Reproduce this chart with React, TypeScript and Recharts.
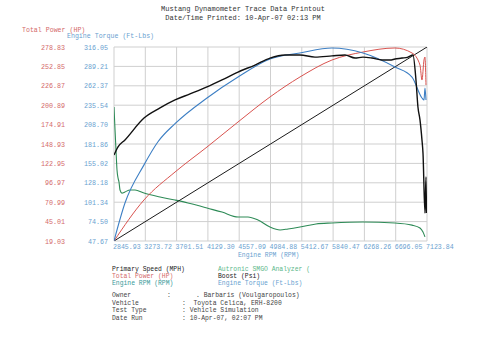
import { LineChart, Line, XAxis, YAxis, CartesianGrid } from "recharts";

const RPM_TICKS = [2845.93, 3273.72, 3701.51, 4129.3, 4557.09, 4984.88, 5412.67, 5840.47, 6268.26, 6696.05, 7123.84];
const TORQUE_TICKS = [47.67, 74.5, 101.34, 128.18, 155.02, 181.86, 208.7, 235.54, 262.37, 289.21, 316.05];
const POWER_TICKS = [19.03, 45.01, 70.99, 96.97, 122.95, 148.93, 174.91, 200.89, 226.87, 252.85, 278.83];

// engine torque (ft-lbs)
const torqueRpm = [2846, 2996, 3256, 3447, 3680, 4117, 4541, 4978, 5388, 5825, 6249, 6686, 6919, 7055, 7083, 7096, 7110];
const torqueVal = [47.7, 100.2, 153.0, 185.0, 210.0, 245.5, 274.5, 299.4, 307.8, 314.7, 307.8, 288.4, 274.5, 245.5, 242.7, 259.4, 242.7];

// total power (hp)
const powerRpm = [2846, 3256, 3680, 4117, 4541, 4978, 5388, 5825, 6249, 6686, 6919, 7028, 7055, 7083, 7096, 7110];
const powerVal = [19.0, 74.0, 111.4, 144.9, 178.4, 211.9, 238.7, 261.4, 272.1, 277.5, 270.8, 254.7, 234.6, 261.4, 265.4, 227.9];

// boost trace (scale 0-100)
const boostRpm = [2846, 2901, 2996, 3256, 3475, 3680, 3885, 4117, 4322, 4541, 4773, 4978, 5183, 5388, 5593, 5825, 6003, 6140, 6249, 6372, 6509, 6618, 6686, 6782, 6864, 6932, 6973, 7000, 7028, 7055, 7069, 7096, 7110, 7117];
const boostVal = [44.3, 48.5, 52.1, 63.4, 68.6, 72.7, 75.8, 79.4, 83.0, 87.1, 90.7, 94.3, 95.9, 95.9, 94.8, 95.4, 95.9, 94.3, 94.8, 94.3, 93.3, 93.3, 93.8, 94.3, 94.8, 95.9, 83.0, 69.1, 62.4, 52.1, 45.4, 14.4, 33.0, 14.4];

// primary speed (scale 0-100)
const speedRpm = [2846, 7124];
const speedVal = [0, 100];

// autronic analyzer (scale 0-100)
const afrRpm = [2846, 2860, 2873, 2887, 2901, 2914, 2928, 2955, 2996, 3065, 3133, 3256, 3475, 3680, 3857, 4021, 4117, 4322, 4541, 4677, 4814, 4978, 5115, 5224, 5388, 5607, 5825, 6249, 6686, 6919, 7028, 7069, 7096];
const afrVal = [69.1, 57.2, 46.9, 36.6, 32.5, 30.4, 26.3, 24.7, 25.3, 26.3, 26.3, 24.7, 22.7, 21.1, 19.6, 18.0, 17.0, 14.9, 12.4, 12.4, 10.8, 7.2, 5.7, 6.2, 7.2, 8.8, 9.3, 9.8, 9.3, 8.2, 6.7, 4.6, 2.1];

const torqueData = torqueRpm.map((rpm, i) => ({ rpm, v: torqueVal[i] }));
const powerData = powerRpm.map((rpm, i) => ({ rpm, v: powerVal[i] }));
const boostData = boostRpm.map((rpm, i) => ({ rpm, v: boostVal[i] }));
const speedData = speedRpm.map((rpm, i) => ({ rpm, v: speedVal[i] }));
const afrData = afrRpm.map((rpm, i) => ({ rpm, v: afrVal[i] }));

const MONO = "'Liberation Mono', 'DejaVu Sans Mono', monospace";
const RED = "#d9534f";
const BLUE = "#3d7fc4";
const GREEN = "#2e8b57";
const LABEL_RED = "#d46a6a";
const LABEL_BLUE = "#6a9fd0";
const GRID = "#cfcfcf";
const PLOT_LEFT = 114;

const YTick = (props: any) => {
  const { y, payload, index } = props;
  const x = Number.isFinite(props.x) ? props.x : PLOT_LEFT - 6;
  return (
    <g>
      <text x={x} y={y} dy={2.5} textAnchor="end" fontSize={6.7} fontFamily={MONO} fill={LABEL_BLUE}>
        {Number(payload.value).toFixed(2)}
      </text>
      <text x={x - 43} y={y} dy={2.5} textAnchor="end" fontSize={6.7} fontFamily={MONO} fill={LABEL_RED}>
        {POWER_TICKS[index]?.toFixed(2)}
      </text>
    </g>
  );
};

const XTick = (props: any) => {
  const { x, y, payload } = props;
  return (
    <text x={x - 1} y={y} dy={4} textAnchor="start" fontSize={6.6} fontFamily={MONO} fill={LABEL_BLUE}>
      {Number(payload.value).toFixed(2)}
    </text>
  );
};

const T = (p: { x: number; y: number; c?: string; s?: number; a?: "start" | "middle" | "end"; children: any }) => (
  <text x={p.x} y={p.y} fontSize={p.s ?? 6.4} fontFamily={MONO} fill={p.c ?? "#333"} textAnchor={p.a ?? "start"} xmlSpace="preserve">
    {p.children}
  </text>
);

export default function App() {
  return (
    <div style={{ position: "absolute", left: 0, top: 0, width: 500, height: 354, background: "#fff" }}>
      <LineChart width={500} height={354} margin={{ top: 47, right: 73, bottom: 93, left: 31 }}>
        <CartesianGrid stroke={GRID} strokeWidth={1} />
        <XAxis
          dataKey="rpm"
          type="number"
          domain={[2845.93, 7123.84]}
          ticks={RPM_TICKS}
          allowDataOverflow
          height={20}
          tickLine={false}
          axisLine={false}
          tickSize={2}
          tickMargin={2}
          tick={(p: any) => <XTick {...p} />}
          interval={0}
        />
        <YAxis
          type="number"
          domain={[47.67, 316.05]}
          ticks={TORQUE_TICKS}
          allowDataOverflow
          width={83}
          tickLine={false}
          axisLine={false}
          tickSize={4}
          tickMargin={2}
          tick={(p: any) => <YTick {...p} />}
          interval={0}
        />
        <YAxis yAxisId="power" type="number" domain={[19.03, 278.83]} allowDataOverflow hide />
        <YAxis yAxisId="aux" type="number" domain={[0, 100]} allowDataOverflow hide />
        <Line yAxisId="aux" data={afrData} dataKey="v" type="monotone" stroke={GREEN} strokeWidth={1.1} dot={false} isAnimationActive={false} />
        <Line yAxisId="aux" data={speedData} dataKey="v" type="linear" stroke="#1a1a1a" strokeWidth={1} dot={false} isAnimationActive={false} />
        <Line yAxisId="power" data={powerData} dataKey="v" type="monotone" stroke={RED} strokeWidth={1} dot={false} isAnimationActive={false} />
        <Line data={torqueData} dataKey="v" type="monotone" stroke={BLUE} strokeWidth={1.1} dot={false} isAnimationActive={false} />
        <Line yAxisId="aux" data={boostData} dataKey="v" type="monotone" stroke="#111" strokeWidth={1.4} dot={false} isAnimationActive={false} />
      </LineChart>
      <svg width={500} height={354} style={{ position: "absolute", left: 0, top: 0, pointerEvents: "none" }}>
        <T x={243} y={10.5} s={7} a="middle" c="#333">Mustang Dynamometer Trace Data Printout</T>
        <T x={243} y={19.5} s={7} a="middle" c="#333">Date/Time Printed: 10-Apr-07 02:13 PM</T>
        <T x={22} y={31.5} s={6.6} c={LABEL_RED}>Total Power (HP)</T>
        <T x={67} y={38} s={6.6} c={LABEL_BLUE}>Engine Torque (Ft-Lbs)</T>
        <T x={238} y={256.5} s={6.4} c={LABEL_BLUE}>Engine RPM (RPM)</T>

        <T x={112} y={270.5} c="#222">Primary Speed (MPH)</T>
        <T x={112} y={277.5} c={LABEL_RED}>Total Power (HP)</T>
        <T x={112} y={284.5} c="#3a9a9a">Engine RPM (RPM)</T>
        <T x={218} y={270.5} c="#5cb88a">Autronic SMGO Analyzer (</T>
        <T x={218} y={277.5} c="#222">Boost (Psi)</T>
        <T x={218} y={284.5} c={LABEL_BLUE}>Engine Torque (Ft-Lbs)</T>

        <T x={112} y={296.5} c="#444">Owner</T>
        <T x={167} y={296.5} c="#444">:</T>
        <T x={196} y={296.5} c="#444">. Barbaris (Voulgaropoulos)</T>
        <T x={112} y={304.5} c="#444">Vehicle</T>
        <T x={182} y={304.5} c="#444">:  Toyota Celica, ERH-8200</T>
        <T x={112} y={312} c="#444">Test Type</T>
        <T x={182} y={312} c="#444">: Vehicle Simulation</T>
        <T x={112} y={319.8} c="#444">Date Run</T>
        <T x={182} y={319.8} c="#444">: 10-Apr-07, 02:07 PM</T>
      </svg>
    </div>
  );
}
